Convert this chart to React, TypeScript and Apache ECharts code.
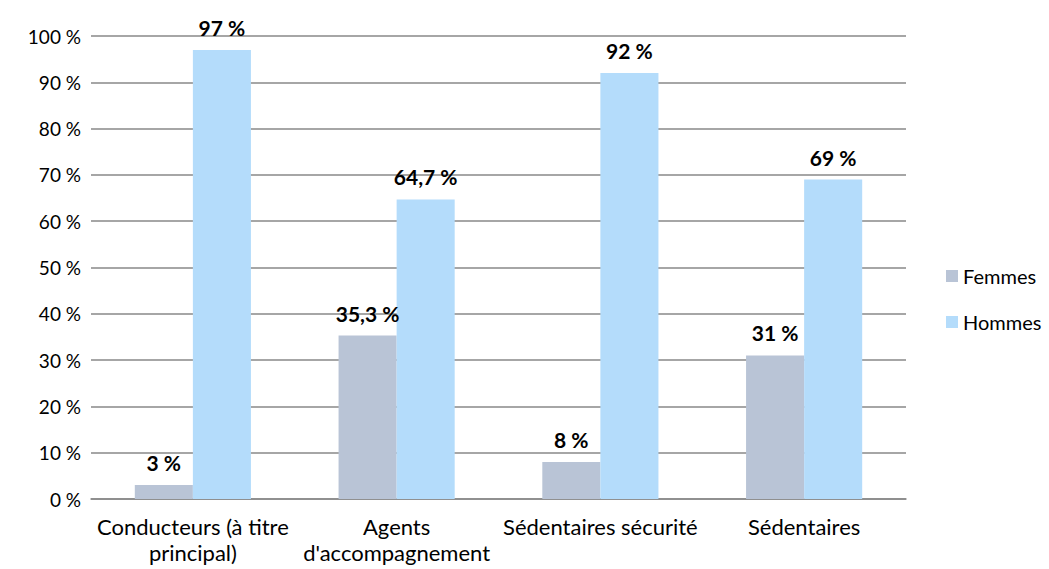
import React, { useEffect, useRef } from "react";
import * as echarts from "echarts";

const categories = [
  "Conducteurs (à titre\nprincipal)",
  "Agents\nd'accompagnement",
  "Sédentaires sécurité",
  "Sédentaires",
];
const femmes = [3, 35.3, 8, 31];
const hommes = [97, 64.7, 92, 69];
const seriesNames = ["Femmes", "Hommes"];

const FONT = "Lato, 'Open Sans', sans-serif";
const fmt = (v: number) => String(v).replace(".", ",") + " %";

export default function App() {
  const ref = useRef<HTMLDivElement>(null);
  useEffect(() => {
    const chart = echarts.init(ref.current!, undefined, { renderer: "svg" });
    const label = {
      show: true,
      position: "top",
      distance: 12,
      fontFamily: FONT,
      fontWeight: "bold",
      fontSize: 21,
      color: "#000",
      formatter: (p: any) => fmt(p.value),
    };
    chart.setOption({
      animation: false,
      textStyle: { fontFamily: FONT },
      grid: { left: 91, right: 143, top: 36, bottom: 70 },
      legend: {
        orient: "vertical",
        left: 941,
        top: 261,
        itemWidth: 12,
        itemHeight: 12,
        itemGap: 26,
        icon: "rect",
        textStyle: { fontFamily: FONT, fontSize: 20, color: "#000" },
        data: seriesNames,
      },
      xAxis: {
        type: "category",
        data: categories,
        axisLine: { lineStyle: { color: "#888", width: 1.5 } },
        axisTick: { show: false },
        axisLabel: {
          fontFamily: FONT,
          fontSize: 22,
          color: "#000",
          margin: 14,
          lineHeight: 26,
          interval: 0,
        },
      },
      yAxis: {
        type: "value",
        min: 0,
        max: 100,
        interval: 10,
        axisLine: { show: false },
        axisTick: { show: false },
        splitLine: { lineStyle: { color: "#888", width: 1.5 } },
        axisLabel: {
          fontFamily: FONT,
          fontSize: 19,
          color: "#000",
          margin: 10,
          formatter: (v: number) => v + " %",
        },
      },
      series: [
        {
          name: seriesNames[0],
          type: "bar",
          data: femmes,
          itemStyle: { color: "#B9C4D6" },
          barGap: "0%",
          barCategoryGap: "43%",
          label,
        },
        {
          name: seriesNames[1],
          type: "bar",
          data: hommes,
          itemStyle: { color: "#B4DCFB" },
          barGap: "0%",
          barCategoryGap: "43%",
          label,
        },
      ],
    });
    return () => chart.dispose();
  }, []);
  return (
    <div
      ref={ref}
      style={{ position: "absolute", left: 0, top: 0, width: 1049, height: 569 }}
    />
  );
}
